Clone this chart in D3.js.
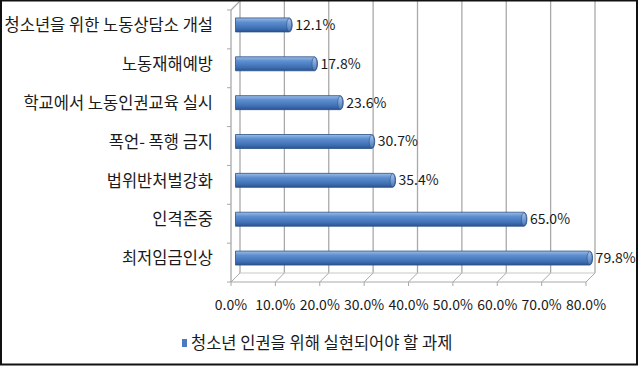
<!DOCTYPE html>
<html>
<head>
<meta charset="utf-8">
<script src="https://cdn.jsdelivr.net/npm/d3@7/dist/d3.min.js"></script>
<style>
  body { margin: 0; background: #fff; }
  svg { display: block; }
  text { font-family: "Noto Sans CJK KR", "Noto Sans", sans-serif; fill: #1a1a1a; }
</style>
</head>
<body>
<svg width="640" height="366"></svg>
<script>
var categories = ['청소년을 위한 노동상담소 개설', '노동재해예방', '학교에서 노동인권교육 실시',
    '폭언- 폭행 금지', '법위반처벌강화', '인격존중', '최저임금인상'];
var values = [12.1, 17.8, 23.6, 30.7, 35.4, 65.0, 79.8];
var ticks = [0, 10, 20, 30, 40, 50, 60, 70, 80];
var seriesName = '청소년 인권을 위해 실현되어야 할 과제';

var svg = d3.select('svg');
var defs = svg.append('defs');

// depth of the 3d box
var dx = 9, dy = -9;

var x = d3.scaleLinear().domain([0, 80]).range([231, 586]);
var y = d3.scaleBand().domain(categories).range([10, 282]);
var floorY = 282;

var grad = defs.append('linearGradient')
    .attr('id', 'barGrad')
    .attr('x1', 0).attr('y1', 0).attr('x2', 0).attr('y2', 1);
grad.append('stop').attr('offset', '0%').attr('stop-color', '#9dbde6');
grad.append('stop').attr('offset', '30%').attr('stop-color', '#5d8fd0');
grad.append('stop').attr('offset', '75%').attr('stop-color', '#3f6fb3');
grad.append('stop').attr('offset', '100%').attr('stop-color', '#2a5290');

var capGrad = defs.append('linearGradient')
    .attr('id', 'capGrad')
    .attr('x1', 0).attr('y1', 0).attr('x2', 0).attr('y2', 1);
capGrad.append('stop').attr('offset', '0%').attr('stop-color', '#a8c4ea');
capGrad.append('stop').attr('offset', '100%').attr('stop-color', '#4a78b8');

var grid = svg.append('g');

// back wall gridlines
grid.selectAll('line.v')
    .data(ticks)
    .enter()
    .append('line')
    .attr('x1', function(d){ return x(d) + dx; })
    .attr('x2', function(d){ return x(d) + dx; })
    .attr('y1', 0)
    .attr('y2', floorY + dy)
    .attr('stroke', '#a9a9a9')
    .attr('stroke-width', 1.3);

// floor
grid.append('line')
    .attr('x1', x(0)).attr('x2', x(80))
    .attr('y1', floorY).attr('y2', floorY)
    .attr('stroke', '#a9a9a9');
grid.append('line')
    .attr('x1', x(0) + dx).attr('x2', x(80) + dx)
    .attr('y1', floorY + dy).attr('y2', floorY + dy)
    .attr('stroke', '#c8c8c8');
grid.selectAll('line.d')
    .data(ticks)
    .enter()
    .append('line')
    .attr('x1', function(d){ return x(d); })
    .attr('x2', function(d){ return x(d) + dx; })
    .attr('y1', floorY)
    .attr('y2', floorY + dy)
    .attr('stroke', '#a9a9a9');
grid.selectAll('line.t')
    .data(ticks)
    .enter()
    .append('line')
    .attr('x1', function(d){ return x(d); })
    .attr('x2', function(d){ return x(d); })
    .attr('y1', floorY)
    .attr('y2', floorY + 4)
    .attr('stroke', '#a9a9a9');

// left wall
grid.append('line')
    .attr('x1', x(0)).attr('x2', x(0))
    .attr('y1', y.range()[0]).attr('y2', floorY)
    .attr('stroke', '#a9a9a9').attr('stroke-width', 1.3);
grid.append('line')
    .attr('x1', x(0)).attr('x2', x(0) + dx)
    .attr('y1', y.range()[0]).attr('y2', y.range()[0] + dy)
    .attr('stroke', '#a9a9a9').attr('stroke-width', 1.3);
grid.selectAll('line.c')
    .data(categories.concat(['end']))
    .enter()
    .append('line')
    .attr('x1', x(0) - 4)
    .attr('x2', x(0))
    .attr('y1', function(d, i){ return y.range()[0] + i * y.step(); })
    .attr('y2', function(d, i){ return y.range()[0] + i * y.step(); })
    .attr('stroke', '#a9a9a9');

// bars, drawn at half depth
var bh = 14;
var bars = svg.selectAll('g.bar')
    .data(values)
    .enter()
    .append('g')
    .attr('transform', function(d, i){
        var cy = y(categories[i]) + y.bandwidth() / 2 + dy / 2;
        return 'translate(' + (dx / 2) + ',' + cy + ')';
    });

bars.append('path')
    .attr('d', function(d){
        var x0 = x(0), x1 = x(d);
        return 'M' + x0 + ',' + (-bh / 2) + 'L' + x1 + ',' + (-bh / 2) +
            'A3,' + (bh / 2) + ' 0 0 1 ' + x1 + ',' + (bh / 2) +
            'L' + x0 + ',' + (bh / 2) + 'Z';
    })
    .attr('fill', 'url(#barGrad)')
    .attr('stroke', '#2b5288')
    .attr('stroke-width', 0.8);

bars.append('ellipse')
    .attr('cx', function(d){ return x(d); })
    .attr('cy', 0)
    .attr('rx', 2.5)
    .attr('ry', bh / 2 - 0.5)
    .attr('fill', 'url(#capGrad)')
    .attr('stroke', '#2b5288')
    .attr('stroke-width', 0.6);

bars.append('text')
    .attr('x', function(d){ return x(d) + 6; })
    .attr('y', 0)
    .attr('dy', '0.35em')
    .attr('font-size', 14)
    .text(function(d){ return d.toFixed(1) + '%'; });

// category labels
svg.selectAll('text.cat')
    .data(categories)
    .enter()
    .append('text')
    .attr('x', 213)
    .attr('y', function(d){ return y(d) + y.bandwidth() / 2 - 4; })
    .attr('dy', '0.35em')
    .attr('text-anchor', 'end')
    .attr('font-size', 16.5)
    .text(function(d){ return d; });

// tick labels
svg.selectAll('text.tick')
    .data(ticks)
    .enter()
    .append('text')
    .attr('x', function(d){ return x(d); })
    .attr('y', 305)
    .attr('dy', '0.35em')
    .attr('text-anchor', 'middle')
    .attr('font-size', 14)
    .text(function(d){ return d.toFixed(1) + '%'; });

// legend
svg.append('rect')
    .attr('x', 182).attr('y', 339)
    .attr('width', 5).attr('height', 8)
    .attr('fill', '#4a7bc0');
svg.append('text')
    .attr('x', 191)
    .attr('y', 343)
    .attr('dy', '0.35em')
    .attr('font-size', 16.5)
    .text(seriesName);

// frame
svg.append('rect')
    .attr('x', 1).attr('y', 0.5)
    .attr('width', 636).attr('height', 364)
    .attr('fill', 'none')
    .attr('stroke', '#111')
    .attr('stroke-width', 2);
</script>
</body>
</html>
